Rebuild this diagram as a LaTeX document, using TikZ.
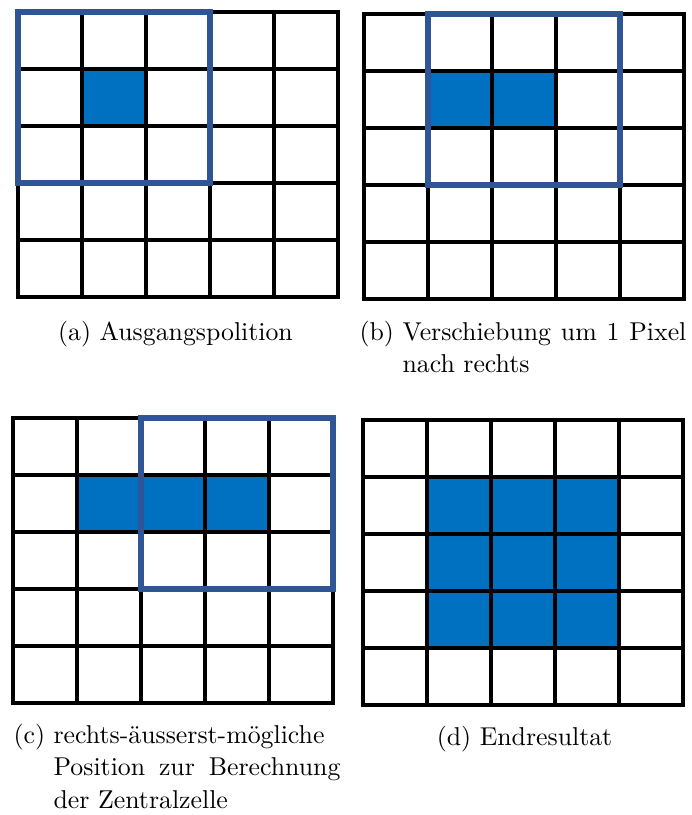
\documentclass[tikz,border=0pt]{standalone}
\usepackage{xcolor}
\usepackage{tikz}
\definecolor{pixblue}{RGB}{0,112,192}
\definecolor{winblue}{RGB}{47,85,151}
\tikzstyle{gridline} = [draw, line width=1.45pt, line cap=rect]
\tikzstyle{window} = [draw=winblue, line width=2.3pt, line cap=rect]
\tikzstyle{pixel} = [fill=pixblue]
\tikzstyle{caption} = [inner sep=0pt, font=\fontsize{10}{12.6}\selectfont]
\tikzstyle{longcaption} = [caption, anchor=north west, text width=126.7pt, align=justify]

\newcommand{\pixgrid}[2]{
  \draw [gridline] (#1,#2) rectangle ++(320,285);
  \foreach \i in {1,...,4} {
    \draw [gridline] (#1+\i*64,#2) -- ++(0,285);
    \draw [gridline] (#1,#2+\i*57) -- ++(320,0);
  }
}
\newcommand{\pix}[4]{\fill [pixel] (#1+#3*64,#2+#4*57) rectangle ++(64,57);}
\newcommand{\win}[4]{\draw [window] (#1+#3*64,#2+#4*57) rectangle ++(192,171);}
\newcommand{\sublabel}[2]{\setbox0=\hbox{(#1)\ }\hangindent=\wd0 \hangafter=1 \noindent\box0 #2\par}

\begin{document}
\begin{tikzpicture}[x=0.3876pt, y=-0.3876pt]
        \useasboundingbox (0,0) rectangle (692,815);

        \pix{18}{12}{1}{1}
        \pixgrid{18}{12}
        \win{18}{12}{0}{0}

        \pix{364}{14}{1}{1} \pix{364}{14}{2}{1}
        \pixgrid{364}{14}
        \win{364}{14}{1}{0}

        \foreach \c in {1,2,3} {\pix{13}{418}{\c}{1}}
        \pixgrid{13}{418}
        \win{13}{418}{2}{0}

        \foreach \c in {1,2,3} {\foreach \r in {1,2,3} {\pix{363}{420}{\c}{\r}}}
        \pixgrid{363}{420}

        \node [caption, anchor=base] (capa) at (175.5,340) {(a) Ausgangspolition};
        \node [longcaption] (capb) at (359,320.6) {\sublabel{b}{Verschiebung um 1 Pixel nach rechts}};
        \node [longcaption] (capc) at (13,723.6) {\sublabel{c}{rechts-äusserst-mögliche\linebreak Position zur Berechnung der Zentralzelle}};
        \node [caption, anchor=base] (capd) at (524.5,745) {(d) Endresultat};
    \end{tikzpicture}
\end{document}
